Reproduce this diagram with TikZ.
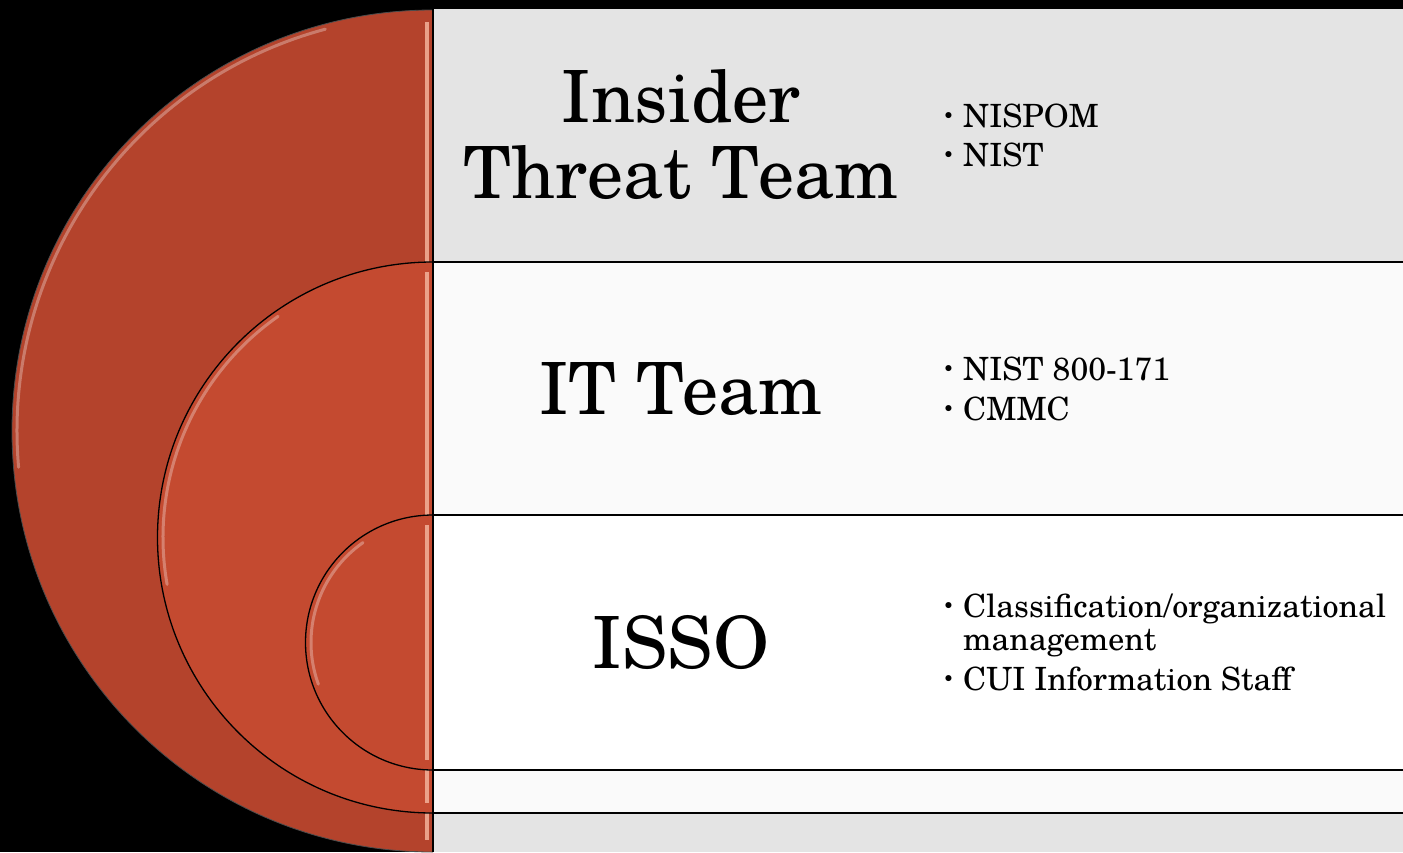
\documentclass[tikz,border=0pt]{standalone}
\usepackage{fontspec}
\setmainfont{TeX Gyre Schola}
\definecolor{discouter}{RGB}{180,67,44}
\definecolor{discinner}{RGB}{196,74,48}
\definecolor{panelgray}{RGB}{228,228,228}
\definecolor{panellight}{RGB}{250,250,250}
\definecolor{glint}{RGB}{240,172,148}
\newcommand\itemdot{\makebox[20pt][l]{\raisebox{5pt}{\fontsize{18}{18}\selectfont\textbullet}}}
\begin{document}
\begin{tikzpicture}[x=1pt,y=-1pt,
  title/.style={font=\fontsize{72}{76}\selectfont, anchor=base, inner sep=0pt},
  entry/.style={font=\fontsize{32}{34}\selectfont, anchor=base west, inner sep=0pt},
  rule/.style={black, line width=1.3pt},
  rimlight/.style={white, opacity=0.3, line width=3pt, line cap=round},
  edgelight/.style={glint, opacity=0.9, line width=3.5pt}]
\useasboundingbox (0,0) rectangle (1403,852);
\fill[black] (0,0) rectangle (1403,852);

% right-hand panels
\fill[panelgray]  (433,8.5) rectangle (1403,262);
\fill[panellight] (433,262) rectangle (1403,515);
\fill[white]      (433,515) rectangle (1403,770);
\fill[panellight] (433,770) rectangle (1403,813);
\fill[panelgray]  (433,813) rectangle (1403,852);

% nested half discs
\begin{scope}
  \clip (0,0) rectangle (433,852);
  % outer
  \fill[discouter] (433,431) circle[radius=421];
  \draw[black!70, line width=0.8pt] (433,431) circle[radius=421];
  \draw[rimlight] ([shift={(433,431)}]-105:416) arc[start angle=-105, end angle=-185, radius=416];
  \draw[edgelight] (427,22) -- (427,840);
  % middle
  \fill[discinner] (433,537.5) circle[radius=275.5];
  \draw[rimlight] ([shift={(433,537.5)}]-125:270) arc[start angle=-125, end angle=-190, radius=270];
  \draw[edgelight] (427,272) -- (427,803);
  \draw[rule] (433,537.5) circle[radius=275.5];
  % inner
  \fill[discinner] (433,642.5) circle[radius=127.5];
  \draw[rimlight] ([shift={(433,642.5)}]-125:122) arc[start angle=-125, end angle=-200, radius=122];
  \draw[edgelight] (427,525) -- (427,760);
  \draw[rule] (433,642.5) circle[radius=127.5];
\end{scope}

% dividing lines
\draw[rule] (433,8.5) -- (433,852);
\draw[rule] (433,262) -- (1403,262);
\draw[rule] (433,515) -- (1403,515);
\draw[rule] (433,770) -- (1403,770);
\draw[rule] (433,813) -- (1403,813);

% group titles
\node[title] (t1a) at (681,122) {Insider};
\node[title] (t1b) at (681,198) {Threat Team};
\node[title] (t2)  at (681,414) {IT Team};
\node[title] (t3)  at (681,668) {ISSO};

% bullet lists
\node[entry] (b1) at (943,127) {\itemdot NISPOM};
\node[entry] (b2) at (943,166) {\itemdot NIST};
\node[entry] (b3) at (943,380) {\itemdot NIST 800-171};
\node[entry] (b4) at (943,420) {\itemdot CMMC};
\node[entry] (b5) at (943,617) {\itemdot Classification/organizational};
\node[entry] (b6) at (963,650) {management};
\node[entry] (b7) at (943,690) {\itemdot CUI Information Staff};
\end{tikzpicture}
\end{document}
